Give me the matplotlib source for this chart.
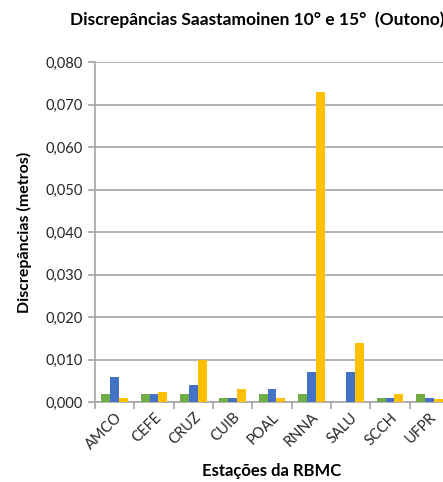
import numpy as np
import matplotlib.pyplot as plt
from matplotlib.ticker import FuncFormatter

plt.rcParams['font.family'] = ['Lato', 'DejaVu Sans']

estacoes = ['AMCO', 'CEFE', 'CRUZ', 'CUIB', 'POAL', 'RNNA', 'SALU', 'SCCH', 'UFPR']
serie_verde = [0.002, 0.002, 0.002, 0.001, 0.002, 0.002, 0.000, 0.001, 0.002]
serie_azul = [0.006, 0.002, 0.004, 0.001, 0.003, 0.007, 0.007, 0.001, 0.001]
serie_amarela = [0.001, 0.0024, 0.010, 0.003, 0.001, 0.073, 0.014, 0.002, 0.0007]

fig = plt.figure(figsize=(4.43, 4.82), dpi=100)
ax = fig.add_axes([95 / 443, 80 / 482, 354 / 443, 340 / 482])

x = np.arange(len(estacoes))
w = 0.225
ax.bar(x - w, serie_verde, w, color='#70AD47', zorder=3)
ax.bar(x, serie_azul, w, color='#4472C4', zorder=3)
ax.bar(x + w, serie_amarela, w, color='#FFC000', zorder=3)

ax.set_xlim(-0.5, len(estacoes) - 0.5)
ax.set_ylim(0, 0.080)
ax.set_yticks(np.arange(0, 0.0801, 0.010))
ax.yaxis.set_major_formatter(FuncFormatter(lambda v, p: f'{v:.3f}'.replace('.', ',')))
ax.grid(axis='y', color='#A6A6A6', linewidth=1.2, zorder=0)

ax.set_xticks(x)
ax.set_xticklabels(estacoes, rotation=45, ha='right', rotation_mode='anchor', fontsize=10.5)
ax.tick_params(axis='x', length=0, pad=6, labelcolor='#262626')
ax.set_xticks(np.arange(-0.5, len(estacoes)), minor=True)
ax.tick_params(axis='x', which='minor', length=5, color='#A6A6A6', width=1.2)
ax.tick_params(axis='y', length=5, color='#A6A6A6', width=1.2, labelsize=10.5, labelcolor='#262626')

for s in ['top', 'right']:
    ax.spines[s].set_visible(False)
for s in ['left', 'bottom']:
    ax.spines[s].set_color('#A6A6A6')
    ax.spines[s].set_linewidth(1.2)

ax.set_ylabel('Discrepâncias (metros)', fontsize=11.5, fontweight='bold', labelpad=10)
ax.set_xlabel('Estações da RBMC', fontsize=12, fontweight='bold', labelpad=8)
fig.text(257 / 443, 1 - 20 / 482, 'Discrepâncias Saastamoinen 10° e 15°  (Outono)',
         ha='center', va='center', fontsize=12.5, fontweight='bold')

fig.savefig('out.png', dpi=100)
